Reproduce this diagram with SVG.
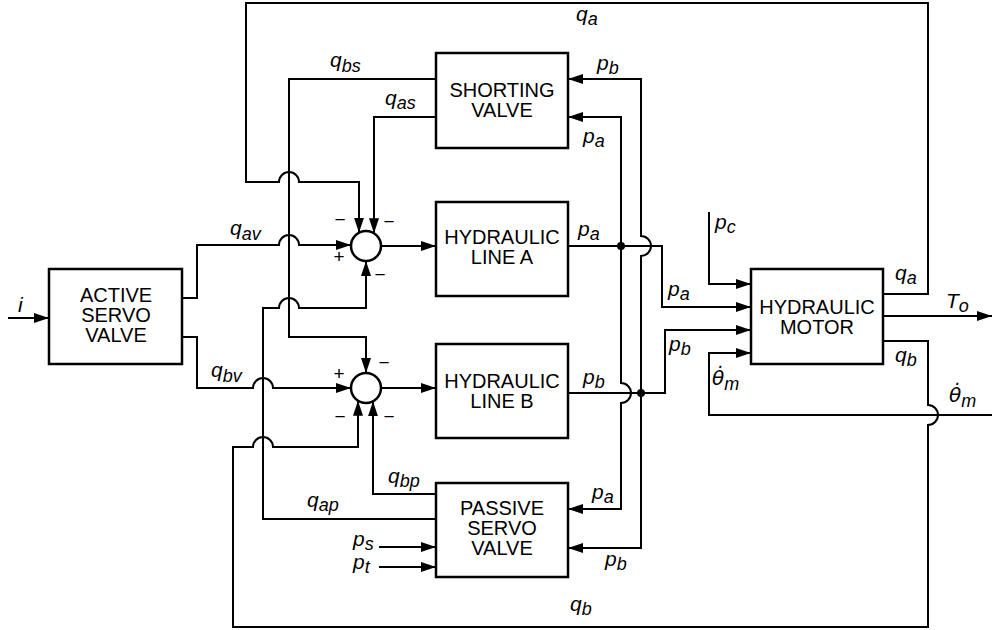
<svg xmlns="http://www.w3.org/2000/svg" width="992" height="630" viewBox="0 0 992 630">
<style>
.box{fill:#fff;stroke:#000;stroke-width:2.5}
.bt{font-family:"Liberation Sans",Arial,sans-serif;font-size:20px;text-anchor:middle;fill:#000}
.ln{fill:none;stroke:#000;stroke-width:2}
.ar{marker-end:url(#ah)}
.lbl{font-family:"Liberation Sans",Arial,sans-serif;font-style:italic;font-size:21px;fill:#000}
.sub{font-size:18px}
.th{font-family:"DejaVu Sans",sans-serif;font-size:20px}
.sg{font-family:"Liberation Sans",Arial,sans-serif;font-size:19px;text-anchor:middle;fill:#000}
.sum{fill:#fff;stroke:#000;stroke-width:2.5}
</style>
<defs>
<marker id="ah" markerUnits="userSpaceOnUse" markerWidth="15" markerHeight="10" refX="15" refY="5" orient="auto">
<path d="M0,0 L15,5 L0,10 z" fill="#000"/>
</marker>
</defs>
<rect width="992" height="630" fill="#fff"/>
<g id="connectors">
<path class="ln ar" d="M8,318 H49"/>
<path class="ln ar" d="M182,298 H197 V245 H279 A10,10 0 0 1 299,245 H351"/>
<path class="ln ar" d="M182,337 H197 V388 H253 A10,10 0 0 1 273,388 H351"/>
<path class="ln ar" d="M883,294 H928 V3 H246 V182 H279 A10,10 0 0 1 299,182 H359 V232.7"/>
<path class="ln ar" d="M436,79 H289 V337 H366 V373"/>
<path class="ln ar" d="M436,117 H374 V233.3"/>
<path class="ln ar" d="M436,519 H263 V308 H279 A10,10 0 0 1 299,308 H366 V261"/>
<path class="ln ar" d="M436,494 H373 V401.3"/>
<path class="ln ar" d="M883,341 H928 V405 A10,10 0 0 1 928,425 V627 H233 V447 H253 A10,10 0 0 1 273,447 H358 V400.7"/>
<path class="ln ar" d="M381,246 H436"/>
<path class="ln ar" d="M381,388 H436"/>
<path class="ln ar" d="M568,246 H662 V307 H751"/>
<path class="ln ar" d="M568,393 H665 V330 H751"/>
<path class="ln ar" d="M621,246 V117 H568"/>
<path class="ln ar" d="M621,246 V383 A10,10 0 0 1 621,403 V509 H568"/>
<path class="ln ar" d="M641,393 V256 A10,10 0 0 0 641,236 V79 H568"/>
<path class="ln ar" d="M641,393 V548 H568"/>
<path class="ln ar" d="M709,212 V284 H751"/>
<path class="ln ar" d="M992,415 H709 V353 H751"/>
<path class="ln ar" d="M883,316 H992"/>
<path class="ln ar" d="M379,547 H436"/>
<path class="ln ar" d="M379,567 H436"/>
<circle cx="621" cy="246" r="4" fill="#000"/>
<circle cx="641" cy="393" r="4" fill="#000"/>
</g>
<g id="active-servo-valve">
<rect class="box" x="49" y="269" width="133" height="95"/>
<text class="bt" x="116" y="302">ACTIVE</text>
<text class="bt" x="116" y="322">SERVO</text>
<text class="bt" x="116" y="342">VALVE</text>
</g>
<g id="shorting-valve">
<rect class="box" x="436" y="53" width="132" height="95"/>
<text class="bt" x="502" y="97">SHORTING</text>
<text class="bt" x="502" y="117">VALVE</text>
</g>
<g id="hydraulic-line-a">
<rect class="box" x="436" y="202" width="132" height="94"/>
<text class="bt" x="502" y="244">HYDRAULIC</text>
<text class="bt" x="502" y="264">LINE A</text>
</g>
<g id="hydraulic-line-b">
<rect class="box" x="436" y="344" width="132" height="94"/>
<text class="bt" x="502" y="388">HYDRAULIC</text>
<text class="bt" x="502" y="408">LINE B</text>
</g>
<g id="passive-servo-valve">
<rect class="box" x="436" y="483" width="132" height="94"/>
<text class="bt" x="502" y="515">PASSIVE</text>
<text class="bt" x="502" y="535">SERVO</text>
<text class="bt" x="502" y="555">VALVE</text>
</g>
<g id="hydraulic-motor">
<rect class="box" x="751" y="269" width="132" height="95"/>
<text class="bt" x="817" y="314">HYDRAULIC</text>
<text class="bt" x="817" y="334">MOTOR</text>
</g>
<g id="sum-a">
<circle class="sum" cx="366" cy="246" r="15"/>
<text class="sg" x="340" y="226">−</text>
<text class="sg" x="389" y="228">−</text>
<text class="sg" x="339" y="263">+</text>
<text class="sg" x="380" y="281">−</text>
</g>
<g id="sum-b">
<circle class="sum" cx="366" cy="388" r="15"/>
<text class="sg" x="339" y="380">+</text>
<text class="sg" x="384" y="369">−</text>
<text class="sg" x="340" y="423">−</text>
<text class="sg" x="389" y="423">−</text>
</g>
<g id="labels">
<text class="lbl" x="18" y="312">i</text>
<text class="lbl" x="576" y="21">q<tspan class="sub" dy="4">a</tspan></text>
<text class="lbl" x="330" y="67">q<tspan class="sub" dy="5">bs</tspan></text>
<text class="lbl" x="385" y="105">q<tspan class="sub" dy="4">as</tspan></text>
<text class="lbl" x="230" y="235">q<tspan class="sub" dy="5">av</tspan></text>
<text class="lbl" x="211" y="377">q<tspan class="sub" dy="5">bv</tspan></text>
<text class="lbl" x="388" y="483">q<tspan class="sub" dy="4">bp</tspan></text>
<text class="lbl" x="307" y="507">q<tspan class="sub" dy="4">ap</tspan></text>
<text class="lbl" x="353" y="546">p<tspan class="sub" dy="4">s</tspan></text>
<text class="lbl" x="353" y="569">p<tspan class="sub" dy="4">t</tspan></text>
<text class="lbl" x="597" y="70">p<tspan class="sub" dy="4">b</tspan></text>
<text class="lbl" x="583" y="143">p<tspan class="sub" dy="4">a</tspan></text>
<text class="lbl" x="578" y="236">p<tspan class="sub" dy="4">a</tspan></text>
<text class="lbl" x="583" y="384">p<tspan class="sub" dy="4">b</tspan></text>
<text class="lbl" x="592" y="499">p<tspan class="sub" dy="4">a</tspan></text>
<text class="lbl" x="605" y="566">p<tspan class="sub" dy="4">b</tspan></text>
<text class="lbl" x="715" y="229">p<tspan class="sub" dy="4">c</tspan></text>
<text class="lbl" x="668" y="296">p<tspan class="sub" dy="4">a</tspan></text>
<text class="lbl" x="669" y="351">p<tspan class="sub" dy="4">b</tspan></text>
<text class="lbl" x="712" y="385"><tspan class="th">θ̇</tspan><tspan class="sub" dy="5">m</tspan></text>
<text class="lbl" x="895" y="280">q<tspan class="sub" dy="4">a</tspan></text>
<text class="lbl" x="946" y="308">T<tspan class="sub" dy="4">o</tspan></text>
<text class="lbl" x="895" y="362">q<tspan class="sub" dy="4">b</tspan></text>
<text class="lbl" x="949" y="402"><tspan class="th">θ̇</tspan><tspan class="sub" dy="5">m</tspan></text>
<text class="lbl" x="570" y="611">q<tspan class="sub" dy="4">b</tspan></text>
</g>
</svg>
